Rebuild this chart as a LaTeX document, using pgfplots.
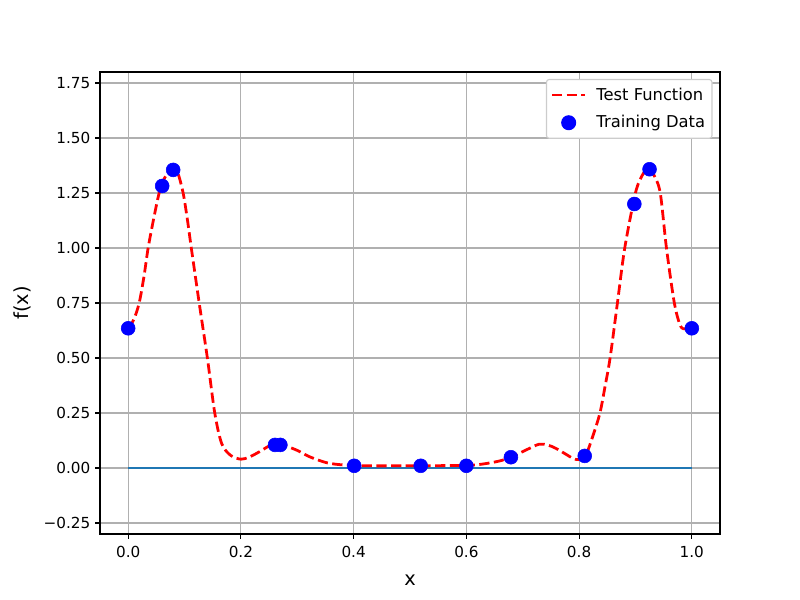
\documentclass[border=0pt]{standalone}
\usepackage{fontspec}
\setmainfont{DejaVu Sans}
\usepackage{pgfplots}
\pgfplotsset{compat=1.18}
\definecolor{mplblue}{HTML}{1F77B4}
\definecolor{gridgray}{HTML}{B0B0B0}
\pgfplotsset{
  lineleg/.style={legend image code/.code={\path (29bp,0bp); \draw[##1, line width=2bp, dash pattern=on 7.4bp off 3.2bp] (0bp,0bp) -- (24bp,0bp);}},
  markleg/.style={legend image code/.code={\path (29bp,0bp); \draw[##1] plot coordinates {(12bp,0bp)};}},
}
\begin{document}
\begin{tikzpicture}
\begin{axis}[
  scale only axis,
  width=446.4bp, height=332.64bp,
  xmin=-0.05, xmax=1.05, ymin=-0.3, ymax=1.8,
  xtick={0,0.2,0.4,0.6,0.8,1.0},
  xticklabels={0.0,0.2,0.4,0.6,0.8,1.0},
  ytick={-0.25,0,0.25,0.5,0.75,1.0,1.25,1.5,1.75},
  yticklabels={−0.25,0.00,0.25,0.50,0.75,1.00,1.25,1.50,1.75},
  xtick pos=bottom, ytick pos=left,
  tick align=outside,
  major tick length=3.5bp,
  every tick/.style={black, line width=0.8bp},
  axis line style={black, line width=0.8bp},
  grid=major,
  major grid style={gridgray, line width=0.8bp},
  tick label style={font=\fontsize{11}{13}\selectfont},
  xticklabel style={yshift=-1.5bp},
  xlabel={x}, ylabel={f(x)},
  label style={font=\fontsize{14}{16}\selectfont},
  xlabel style={yshift=-6bp},
  ylabel style={yshift=2bp},
  legend style={at={(axis description cs:0.988,0.985)}, anchor=north east,
    draw=black!20, rounded corners=2bp, fill=white,
    font=\fontsize{11.8}{13}\selectfont, inner xsep=3bp, inner ysep=4bp, row sep=5.5bp,
    line width=0.8bp, nodes={inner sep=2bp}},
  legend cell align=left,
  clip=true,
]
\addplot[mplblue, line width=1.5bp, forget plot] coordinates {(0,0) (1,0)};
\addplot[red, line width=2bp, dash pattern=on 7.4bp off 3.2bp, smooth, lineleg] coordinates {
(0,0.635) (0.01,0.675) (0.0195,0.75) (0.028,0.87) (0.0354,1.0) (0.045,1.13) (0.055,1.25)
(0.065,1.32) (0.078,1.36) (0.088,1.34) (0.0975,1.25) (0.105,1.13) (0.112,1.0)
(0.126,0.75) (0.1405,0.5) (0.1536,0.25) (0.166,0.11) (0.182,0.057) (0.2,0.04)
(0.215,0.05) (0.233,0.074) (0.25,0.1) (0.265,0.11) (0.28,0.1) (0.3,0.08)
(0.322,0.051) (0.352,0.024) (0.381,0.014) (0.42,0.01) (0.5,0.01) (0.6,0.012)
(0.629,0.018) (0.659,0.032) (0.68,0.05) (0.706,0.082) (0.729,0.108) (0.745,0.104)
(0.759,0.089) (0.775,0.065) (0.789,0.044) (0.8,0.038) (0.812,0.06) (0.824,0.142)
(0.837,0.25) (0.846,0.37) (0.855,0.5) (0.868,0.75) (0.881,1.0) (0.9,1.25)
(0.912,1.33) (0.923,1.362) (0.933,1.33) (0.944,1.25) (0.955,1.0) (0.969,0.75)
(0.98,0.645) (0.99,0.632) (1,0.635)};
\addlegendentry{Test Function}
\addplot[only marks, mark=*, mark size=5bp, blue, mark options={draw=blue, fill=blue}, markleg] coordinates {
(0,0.635) (0.0603,1.282) (0.0798,1.355) (0.2605,0.105) (0.270,0.105) (0.401,0.01)
(0.519,0.01) (0.6,0.01) (0.679,0.049) (0.81,0.055) (0.898,1.2) (0.925,1.358) (1,0.635)};
\addlegendentry{Training Data}
\end{axis}
\path (current axis.south west) ++(-72bp,-47.52bp) rectangle ++(576bp,432bp);
\end{tikzpicture}
\end{document}
